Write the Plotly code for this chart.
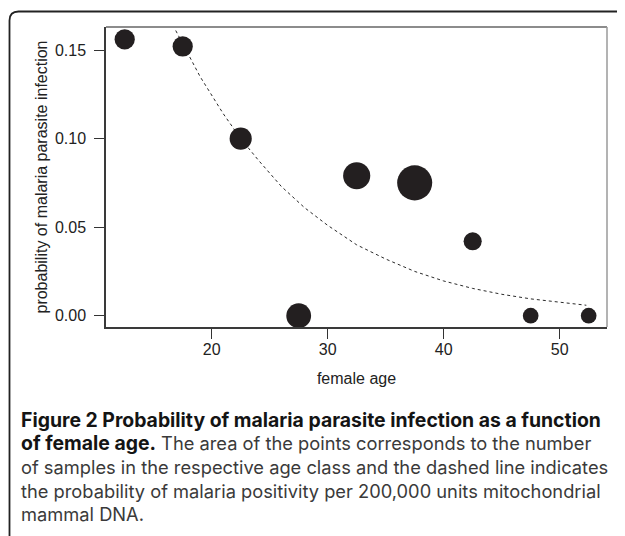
import plotly.graph_objects as go

# ---- data ----
age_class = [12.5, 17.5, 22.5, 27.5, 32.5, 37.5, 42.5, 47.5, 52.5]
prob_infection = [0.156, 0.152, 0.100, 0.000, 0.079, 0.075, 0.042, 0.000, 0.000]
n_samples = [10, 10, 12, 15, 18, 30, 8, 6, 6]

curve_age = [16.9, 19, 21, 22.5, 24, 26, 28, 30, 32.5, 35, 37.5, 40, 42.5, 45, 47.5, 50, 52.3]
curve_prob = [0.161, 0.135, 0.114, 0.100, 0.088, 0.073, 0.061, 0.051, 0.040, 0.032,
              0.025, 0.0196, 0.0154, 0.0121, 0.0095, 0.0075, 0.0059]

x_ticks = [20, 30, 40, 50]
y_ticks = [0.00, 0.05, 0.10, 0.15]

caption_lines = [
    "<b>Figure 2 Probability of malaria parasite infection as a function</b>",
    "<b>of female age.</b> The area of the points corresponds to the number",
    "of samples in the respective age class and the dashed line indicates",
    "the probability of malaria positivity per 200,000 units mitochondrial",
    "mammal DNA.",
]

# ---- layout geometry (pixels, page coordinates; page body has an 8px margin) ----
OFF = 8
W, H = 625 - OFF, 536 - OFF
ML, MR, MT, MB = 106 - OFF, 18, 27 - OFF, 209
PW, PH = W - ML - MR, H - MT - MB


def px2x(px):  # page px -> paper x
    return (px - OFF - ML) / PW


def py2y(py):  # page py -> paper y
    return (H - MB - (py - OFF)) / PH


fig = go.Figure()

fig.add_trace(go.Scatter(
    x=curve_age, y=curve_prob, mode="lines",
    line=dict(color="#2a2a2a", width=1, dash="3px,3px"),
    hoverinfo="skip", showlegend=False,
))

fig.add_trace(go.Scatter(
    x=age_class, y=prob_infection, mode="markers",
    marker=dict(size=n_samples, sizemode="area", sizeref=1 / 20.5,
                color="#231f20", opacity=1, line=dict(width=0)),
    showlegend=False,
))

axis_font = dict(family="Liberation Sans, Arial, sans-serif", size=16, color="#222222")

fig.update_xaxes(
    range=[10.888, 54.08], tickvals=x_ticks, ticks="outside", ticklen=10,
    tickwidth=1, tickcolor="#333333", showline=True, linecolor="#3a3a3a",
    linewidth=1.5, showgrid=False, zeroline=False, tickfont=axis_font,
    ticklabelstandoff=-3,
    title=dict(text="female age", font=axis_font, standoff=16),
)
fig.update_yaxes(
    range=[-0.00638, 0.16299], tickvals=y_ticks, tickformat=".2f",
    ticks="outside", ticklen=10, tickwidth=1, tickcolor="#333333",
    showline=True, linecolor="#3a3a3a", linewidth=1.5, showgrid=False,
    zeroline=False, tickfont=axis_font, ticklabelstandoff=5,
    title=dict(text="probability of malaria parasite infection", font=axis_font, standoff=3),
)

# plot box: top and right sides (lighter grey)
fig.add_shape(type="line", xref="paper", yref="paper", x0=0, x1=1, y0=1, y1=1,
              line=dict(color="#666666", width=1.5))
fig.add_shape(type="line", xref="paper", yref="paper", x0=1, x1=1, y0=0, y1=1,
              line=dict(color="#9a9a9a", width=1.5))

# outer frame with rounded top-left corner
fx, fy, r = 9.5, 11.5, 9
path = (f"M {px2x(fx)},{py2y(540)} L {px2x(fx)},{py2y(fy + r)} "
        f"Q {px2x(fx)},{py2y(fy)} {px2x(fx + r)},{py2y(fy)} L {px2x(630)},{py2y(fy)}")
fig.add_shape(type="path", xref="paper", yref="paper", path=path,
              line=dict(color="#222222", width=1.8))

# caption, one annotation per line
cap_y = [420, 443.5, 467, 490.5, 514]
for txt, yy in zip(caption_lines, cap_y):
    txt = txt.replace("<b>", "<b><span style='color:#141414;font-size:19.4px'>").replace("</b>", "</span></b>")
    fig.add_annotation(
        text=txt, xref="paper", yref="paper", x=px2x(19), y=py2y(yy),
        xanchor="left", yanchor="middle", showarrow=False,
        font=dict(family="Inter, sans-serif", size=18.3, color="#3a3a3a"),
    )

fig.update_layout(
    width=W, height=H, autosize=False,
    margin=dict(l=ML, r=MR, t=MT, b=MB, pad=0),
    paper_bgcolor="white", plot_bgcolor="white",
)

fig.write_html("out.html")
